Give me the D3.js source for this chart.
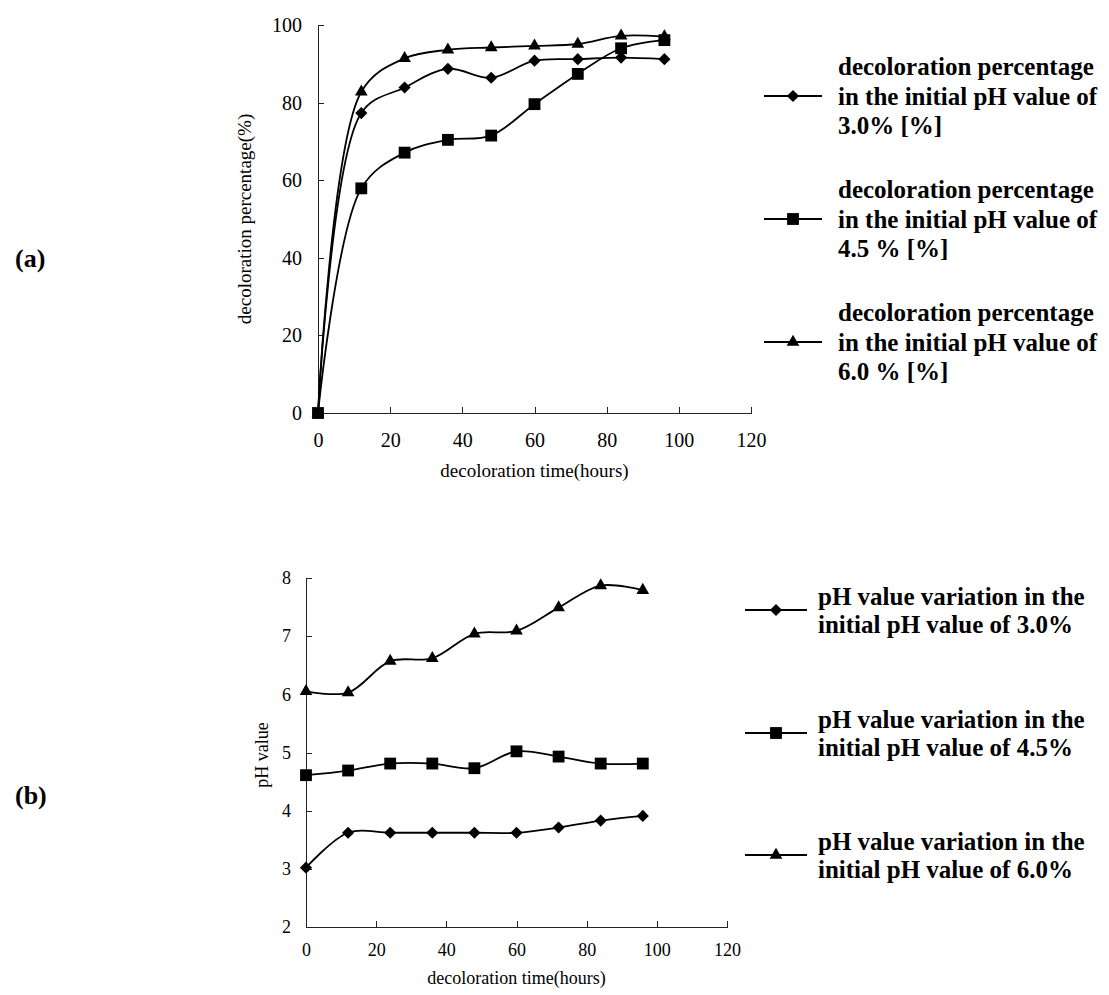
<!DOCTYPE html>
<meta charset="utf-8">
<style>

body {
  margin: 0;
  background: #fff;
}

text {
  font-family: "Liberation Serif", "Times New Roman", serif;
  fill: #000;
}

.axis path,
.axis line {
  fill: none;
  stroke: #222;
  shape-rendering: crispEdges;
}

.line {
  fill: none;
  stroke: #000;
  stroke-width: 1.8px;
}

.legend text {
  font-weight: bold;
  font-size: 25px;
}

.panel-label {
  font-weight: bold;
  font-size: 26px;
}

</style>
<svg width="1109" height="995"></svg>
<script src="https://d3js.org/d3.v7.min.js"></script>
<script>

// sampling times (hours)
var hours = [0, 12, 24, 36, 48, 60, 72, 84, 96];
var xTicks = [0, 20, 40, 60, 80, 100, 120];

// (a) decoloration percentage [%]
var decolor30 = [0, 77.3, 83.9, 88.7, 86.4, 90.8, 91.2, 91.6, 91.2];
var decolor45 = [0, 57.9, 67.1, 70.4, 71.5, 79.6, 87.4, 94.0, 96.1];
var decolor60 = [0, 82.8, 91.4, 93.6, 94.2, 94.6, 95.1, 97.2, 97.0];
var decolorTicks = [0, 20, 40, 60, 80, 100];
var decolorLegend = [
  ["decoloration percentage", "in the initial pH value of", "3.0% [%]"],
  ["decoloration percentage", "in the initial pH value of", "4.5 % [%]"],
  ["decoloration percentage", "in the initial pH value of", "6.0 % [%]"]
];

// (b) pH value
var ph30 = [3.02, 3.62, 3.62, 3.62, 3.62, 3.62, 3.71, 3.83, 3.91];
var ph45 = [4.61, 4.69, 4.81, 4.81, 4.73, 5.02, 4.93, 4.81, 4.81];
var ph60 = [6.05, 6.03, 6.57, 6.62, 7.04, 7.09, 7.49, 7.87, 7.79];
var phTicks = [2, 3, 4, 5, 6, 7, 8];
var phLegend = [
  ["pH value variation in the", "initial pH value of 3.0%"],
  ["pH value variation in the", "initial pH value of 4.5%"],
  ["pH value variation in the", "initial pH value of 6.0%"]
];

var markers = ["diamond", "square", "triangle"];

var svg = d3.select("svg");

function markerPath(kind) {
  if (kind === "square") return d3.symbol().type(d3.symbolSquare).size(140)();
  if (kind === "triangle") return d3.symbol().type(d3.symbolTriangle).size(70)();
  return d3.symbol().type(d3.symbolSquare).size(74)();
}
function markerRotate(kind) {
  return kind === "diamond" ? " rotate(45)" : "";
}

function drawPanel(p) {
  var x = d3.scaleLinear().domain([0, 120]).range([p.left, p.right]);
  var y = d3.scaleLinear().domain(p.yDomain).range([p.bottom, p.top]);

  var g = svg.append("g");

  g.append("g")
      .attr("class", "axis axis--x")
      .attr("transform", "translate(0," + p.bottom + ")")
      .call(d3.axisBottom(x).tickValues(xTicks).tickFormat(d3.format("d"))
        .tickSizeInner(-6).tickSizeOuter(0).tickPadding(p.xPad))
    .selectAll("text")
      .style("font-size", p.tickFont + "px");

  g.append("g")
      .attr("class", "axis axis--y")
      .attr("transform", "translate(" + p.left + ",0)")
      .call(d3.axisLeft(y).tickValues(p.yTicks).tickFormat(d3.format("d"))
        .tickSizeInner(-6).tickSizeOuter(0).tickPadding(p.yPad))
    .selectAll("text")
      .style("font-size", p.tickFont + "px");

  g.append("text")
      .attr("x", (p.left + p.right) / 2)
      .attr("y", p.xTitleY)
      .attr("text-anchor", "middle")
      .style("font-size", p.titleFont + "px")
      .text("decoloration time(hours)");

  g.append("text")
      .attr("transform", "translate(" + p.yTitleX + "," + p.yTitleY + ") rotate(-90)")
      .attr("text-anchor", "middle")
      .attr("dy", "0.35em")
      .style("font-size", p.titleFont + "px")
      .text(p.yTitle);

  // smoothed lines, like the spreadsheet's "smoothed line" option
  var line = d3.line()
      .curve(d3.curveCatmullRom.alpha(0.5))
      .x(function(d) { return x(d.t); })
      .y(function(d) { return y(d.v); });

  var series = p.series.map(function(vals, i) {
    return {
      kind: markers[i],
      points: vals.map(function(v, j) { return {t: hours[j], v: v}; })
    };
  });

  var serie = g.selectAll(".serie")
      .data(series)
    .enter().append("g")
      .attr("class", "serie");

  serie.append("path")
      .attr("class", "line")
      .attr("d", function(d) { return line(d.points); });

  serie.selectAll(".marker")
      .data(function(d) { return d.points.map(function(pt) { return {kind: d.kind, t: pt.t, v: pt.v}; }); })
    .enter().append("path")
      .attr("class", "marker")
      .attr("d", function(d) { return markerPath(d.kind); })
      .attr("transform", function(d) {
        return "translate(" + x(d.t) + "," + y(d.v) + ")" + markerRotate(d.kind);
      })
      .attr("fill", "#000");

  // legend
  var legend = g.selectAll(".legend")
      .data(p.legend)
    .enter().append("g")
      .attr("class", "legend")
      .attr("transform", function(d, i) { return "translate(0," + p.legendY[i] + ")"; });

  legend.append("line")
      .attr("x1", p.legendX0)
      .attr("x2", p.legendX1)
      .attr("stroke", "#000")
      .attr("stroke-width", 1.8);

  legend.append("path")
      .attr("d", function(d, i) { return markerPath(markers[i]); })
      .attr("transform", function(d, i) {
        return "translate(" + (p.legendX0 + p.legendX1) / 2 + ",0)" + markerRotate(markers[i]);
      })
      .attr("fill", "#000");

  legend.each(function(lines) {
    var n = lines.length;
    d3.select(this).selectAll("text")
        .data(lines)
      .enter().append("text")
        .attr("x", p.legendText)
        .attr("y", function(d, k) { return (k - (n - 1) / 2) * p.legendLine; })
        .attr("dy", "0.35em")
        .text(function(d) { return d; });
  });

  g.append("text")
      .attr("class", "panel-label")
      .attr("x", 15)
      .attr("y", p.labelY)
      .attr("dy", "0.35em")
      .text(p.label);
}

drawPanel({
  left: 318, right: 751, top: 25, bottom: 413,
  yDomain: [0, 100], yTicks: decolorTicks,
  xPad: 20, yPad: 16, tickFont: 20, titleFont: 19,
  xTitleY: 477, yTitleX: 244, yTitleY: 219,
  yTitle: "decoloration percentage(%)",
  series: [decolor30, decolor45, decolor60],
  legend: decolorLegend, legendY: [96, 219, 342],
  legendX0: 764, legendX1: 822, legendText: 838, legendLine: 29.5,
  label: "(a)", labelY: 258
});

drawPanel({
  left: 306, right: 727, top: 578, bottom: 927,
  yDomain: [2, 8], yTicks: phTicks,
  xPad: 16, yPad: 15, tickFont: 18, titleFont: 18,
  xTitleY: 984, yTitleX: 262, yTitleY: 755,
  yTitle: "pH value",
  series: [ph30, ph45, ph60],
  legend: phLegend, legendY: [610, 733, 855],
  legendX0: 745, legendX1: 807, legendText: 818, legendLine: 28,
  label: "(b)", labelY: 795
});

</script>
